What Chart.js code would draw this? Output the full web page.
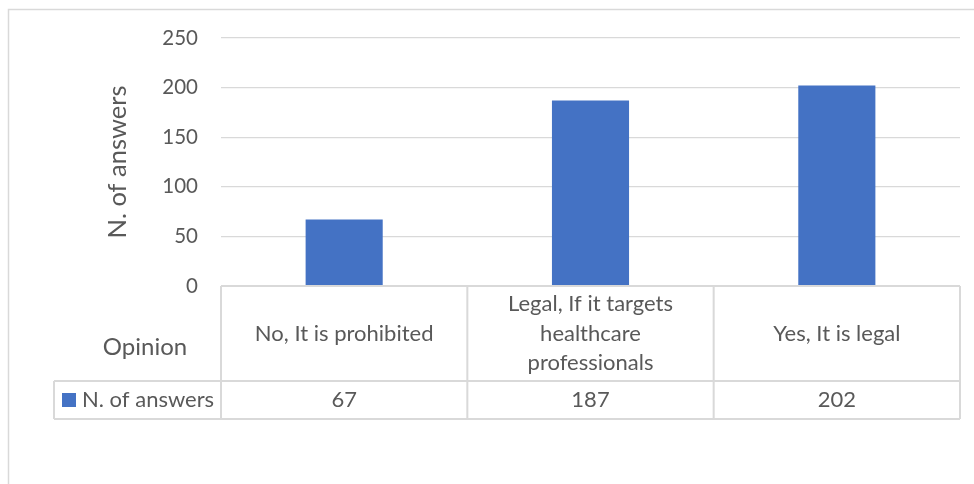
<!DOCTYPE html>
<html>
<head>
<meta charset="utf-8">
<script src="https://cdn.jsdelivr.net/npm/chart.js@4"></script>
<style>
    body { margin: 0; background: #fff; }
    canvas { display: block; }
</style>
</head>
<body>
<canvas id="opinion-chart" width="974" height="484"></canvas>
<script>
// Chart data
var categories = ['No, It is prohibited', ['Legal, If it targets', 'healthcare', 'professionals'], 'Yes, It is legal'];
var answers = [67, 187, 202];
var yTicks = [0, 50, 100, 150, 200, 250];
var seriesName = 'N. of answers';
var tableHeader = 'Opinion';

var textColor = '#595959';
var lineColor = '#d9d9d9';
var barColor = '#4472c4';
var fontFamily = 'Lato, "Open Sans", sans-serif';

// White background plus the light outer frame
var framePlugin = {
    id: 'frame',
    beforeDraw: function(chart) {
        var ctx = chart.ctx;
        ctx.save();
        ctx.fillStyle = '#fff';
        ctx.fillRect(0, 0, chart.width, chart.height);
        ctx.strokeStyle = lineColor;
        ctx.lineWidth = 1.5;
        ctx.strokeRect(8.5, 9.5, chart.width + 20, chart.height + 20);
        ctx.restore();
    }
};

// Excel style data table under the plot
var dataTablePlugin = {
    id: 'dataTable',
    afterDraw: function(chart) {
        var ctx = chart.ctx;
        var xScale = chart.scales.x;
        var area = chart.chartArea;
        var half = (xScale.getPixelForValue(1) - xScale.getPixelForValue(0)) / 2;
        var top = area.bottom;
        var mid = top + 95;
        var bottom = mid + 38;
        var legendLeft = 54;

        ctx.save();
        ctx.strokeStyle = lineColor;
        ctx.lineWidth = 2;

        // horizontal rules
        ctx.beginPath();
        ctx.moveTo(area.left, top);
        ctx.lineTo(area.right, top);
        ctx.moveTo(legendLeft, mid);
        ctx.lineTo(area.right, mid);
        ctx.moveTo(legendLeft, bottom);
        ctx.lineTo(area.right, bottom);
        // column rules
        for (var i = 0; i <= categories.length; i++) {
            var x = xScale.getPixelForValue(i) - half;
            ctx.moveTo(x, top);
            ctx.lineTo(x, bottom);
        }
        ctx.moveTo(legendLeft, mid);
        ctx.lineTo(legendLeft, bottom);
        ctx.stroke();

        ctx.fillStyle = textColor;
        ctx.font = '22px ' + fontFamily;
        ctx.textAlign = 'center';
        ctx.textBaseline = 'middle';

        // category names and values
        categories.forEach(function(label, i) {
            var cx = xScale.getPixelForValue(i);
            var lines = Array.isArray(label) ? label : [label];
            var lh = 29.5;
            var y0 = (top + mid) / 2 - (lines.length - 1) * lh / 2;
            lines.forEach(function(line, j) {
                ctx.fillText(line, cx, y0 + j * lh);
            });
            ctx.fillText(String(answers[i]), cx, (mid + bottom) / 2);
        });

        // legend key
        ctx.fillStyle = barColor;
        ctx.fillRect(62, (mid + bottom) / 2 - 7, 14, 14);
        ctx.fillStyle = textColor;
        ctx.textAlign = 'left';
        ctx.fillText(seriesName, 82, (mid + bottom) / 2);

        // header
        ctx.font = '24px ' + fontFamily;
        ctx.textAlign = 'center';
        ctx.fillText(tableHeader, 145, top + 61);
        ctx.restore();
    }
};

var opinionChart = new Chart(document.getElementById('opinion-chart'), {
    type: 'bar',
    data: {
        labels: categories,
        datasets: [{
            label: seriesName,
            data: answers,
            backgroundColor: barColor,
            categoryPercentage: 1,
            barPercentage: 0.313
        }]
    },
    options: {
        responsive: false,
        animation: false,
        layout: {
            padding: { left: 0, top: 38, right: 14, bottom: 198 }
        },
        plugins: {
            legend: { display: false },
            tooltip: { enabled: false }
        },
        scales: {
            x: {
                display: false
            },
            y: {
                min: yTicks[0],
                max: yTicks[yTicks.length - 1],
                afterFit: function(scale) { scale.width = 221; },
                afterBuildTicks: function(scale) {
                    scale.ticks = yTicks.map(function(v) { return { value: v }; });
                },
                border: { display: false },
                grid: {
                    color: lineColor,
                    lineWidth: 1.3,
                    drawTicks: false
                },
                ticks: {
                    padding: 23,
                    color: textColor,
                    font: { family: fontFamily, size: 20.5 }
                },
                title: {
                    display: true,
                    text: seriesName,
                    color: textColor,
                    padding: { top: 102, bottom: 0 },
                    font: { family: fontFamily, size: 25.5 }
                }
            }
        }
    },
    plugins: [framePlugin, dataTablePlugin]
});
</script>
</body>
</html>
